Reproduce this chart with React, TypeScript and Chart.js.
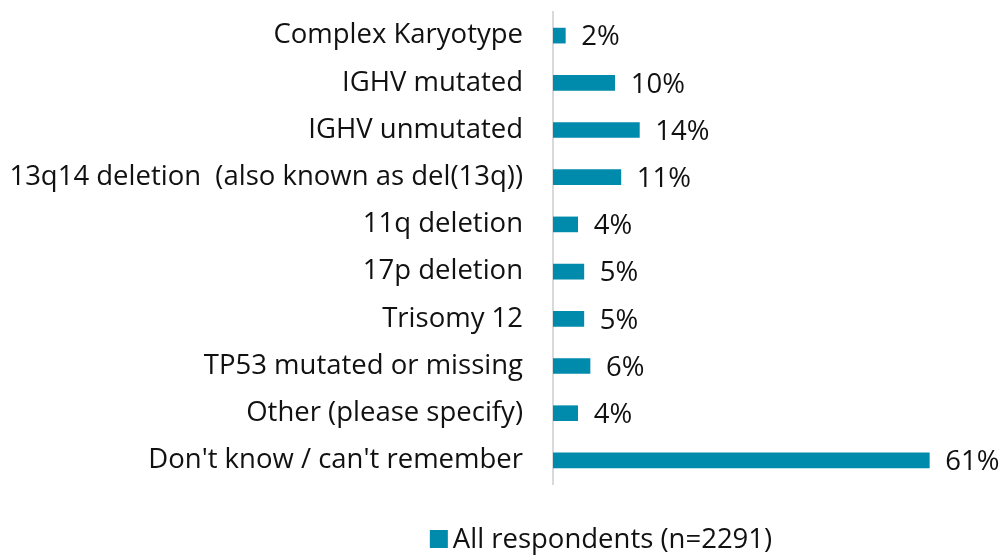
import React, { useEffect, useRef } from "react";
import { Chart, registerables } from "chart.js";

Chart.register(...registerables);

const categories = [
  "Complex Karyotype",
  "IGHV mutated",
  "IGHV unmutated",
  "13q14 deletion  (also known as del(13q))",
  "11q deletion",
  "17p deletion",
  "Trisomy 12",
  "TP53 mutated or missing",
  "Other (please specify)",
  "Don't know / can't remember",
];
const values = [2, 10, 14, 11, 4, 5, 5, 6, 4, 61];
const seriesLabel = "All respondents (n=2291)";

const BAR_COLOR = "#008AAB";
const TEXT_COLOR = "#111111";
const FONT_FAMILY = "'Open Sans', 'Noto Sans', sans-serif";
const FONT_SIZE = 27.5;

const dataLabelPlugin = {
  id: "dataLabels",
  afterDatasetsDraw(chart: any) {
    const ctx = chart.ctx;
    const meta = chart.getDatasetMeta(0);
    ctx.save();
    ctx.fillStyle = TEXT_COLOR;
    ctx.font = `${FONT_SIZE}px ${FONT_FAMILY}`;
    ctx.textAlign = "left";
    ctx.textBaseline = "middle";
    meta.data.forEach((bar: any, i: number) => {
      ctx.fillText(`${values[i]}%`, bar.x + 16, bar.y + 2);
    });
    ctx.restore();
  },
};

const legendPlugin = {
  id: "customLegend",
  afterDraw(chart: any) {
    const ctx = chart.ctx;
    ctx.save();
    ctx.font = `${FONT_SIZE}px ${FONT_FAMILY}`;
    const textW = ctx.measureText(seriesLabel).width;
    const box = 18;
    const gap = 5;
    const total = box + gap + textW;
    const cx = 601;
    const x0 = cx - total / 2;
    const y = 539;
    ctx.fillStyle = BAR_COLOR;
    ctx.fillRect(x0, y - box / 2, box, box);
    ctx.fillStyle = TEXT_COLOR;
    ctx.textAlign = "left";
    ctx.textBaseline = "middle";
    ctx.fillText(seriesLabel, x0 + box + gap, y + 1);
    ctx.restore();
  },
};

export default function App() {
  const ref = useRef<HTMLCanvasElement>(null);
  useEffect(() => {
    if (!ref.current) return;
    const chart = new Chart(ref.current, {
      type: "bar",
      data: {
        labels: categories,
        datasets: [
          {
            label: seriesLabel,
            data: values,
            backgroundColor: BAR_COLOR,
            barThickness: 15,
          },
        ],
      },
      options: {
        indexAxis: "y",
        animation: false,
        responsive: false,
        maintainAspectRatio: false,
        layout: { padding: { top: 12, bottom: 72, right: 51, left: 0 } },
        plugins: {
          legend: { display: false },
          tooltip: { enabled: false },
        },
        scales: {
          x: {
            min: 0,
            max: 65,
            display: false,
            grid: { display: false },
          },
          y: {
            afterFit(scale: any) {
              scale.width = 553;
              scale.paddingTop = 0;
              scale.paddingBottom = 0;
            },
            grid: { display: false, drawTicks: false },
            border: { display: true, color: "#d9d9d9", width: 2 },
            ticks: {
              padding: 30,
              color: TEXT_COLOR,
              font: { size: FONT_SIZE, family: FONT_FAMILY },
            },
          },
        },
      },
      plugins: [dataLabelPlugin, legendPlugin],
    });
    return () => chart.destroy();
  }, []);
  return (
    <div style={{ position: "fixed", left: 0, top: 0, width: 1005, height: 556, background: "#fff" }}>
      <canvas ref={ref} width={1005} height={556} />
    </div>
  );
}
